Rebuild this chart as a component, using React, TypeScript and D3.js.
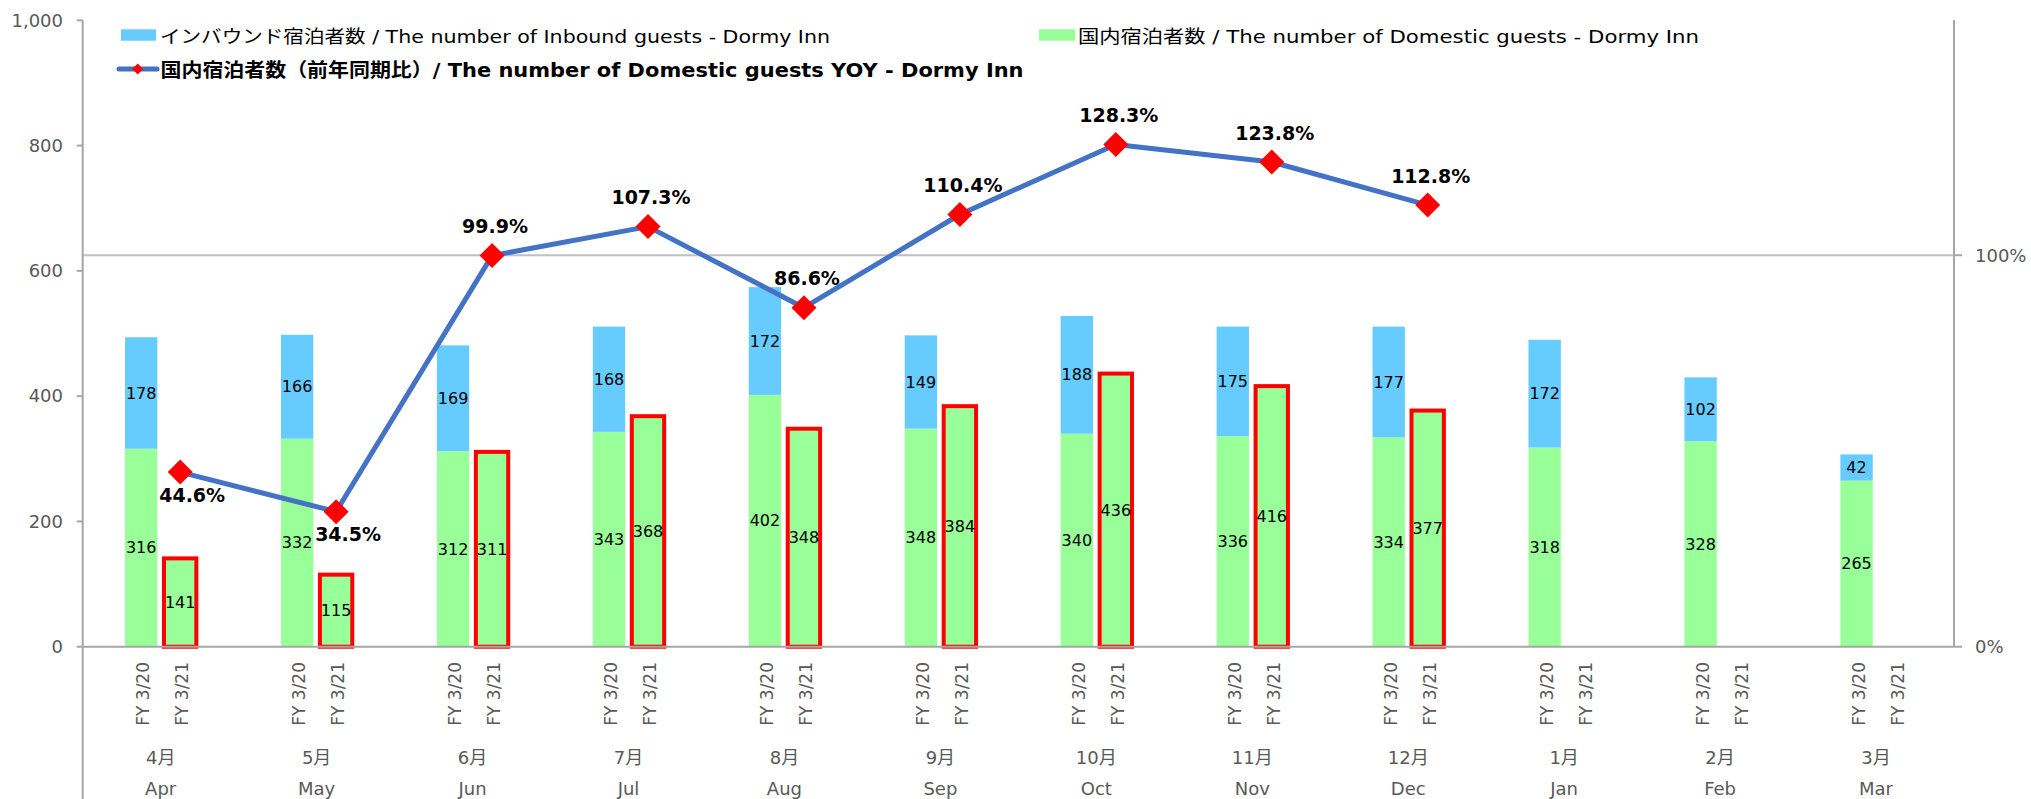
import React from "react";
import * as d3 from "d3";

const monthsJa = ["4月", "5月", "6月", "7月", "8月", "9月", "10月", "11月", "12月", "1月", "2月", "3月"];
const monthsEn = ["Apr", "May", "Jun", "Jul", "Aug", "Sep", "Oct", "Nov", "Dec", "Jan", "Feb", "Mar"];
const subCategories = ["", "FY 3/20", "FY 3/21", " "];
const domesticFY20 = [316, 332, 312, 343, 402, 348, 340, 336, 334, 318, 328, 265];
const inboundFY20 = [178, 166, 169, 168, 172, 149, 188, 175, 177, 172, 102, 42];
const domesticFY21 = [141, 115, 311, 368, 348, 384, 436, 416, 377, null, null, null];
const yoyFY21 = [0.446, 0.345, 0.999, 1.073, 0.866, 1.104, 1.283, 1.238, 1.128, null, null, null];
const leftTicks = [0, 200, 400, 600, 800, 1000];
const rightTicks = [0, 1];

const legendInbound = "インバウンド宿泊者数 / The number of Inbound guests - Dormy Inn";
const legendDomestic = "国内宿泊者数 / The number of Domestic guests - Dormy Inn";
const legendYoy = "国内宿泊者数（前年同期比）/ The number of Domestic guests YOY - Dormy Inn";

const BLUE = "#66CCFF";
const GREEN = "#99FF99";
const LINE = "#4472C4";
const RED = "#FF0000";
const AXIS = "#A6A6A6";
const GRID = "#C0C0C0";
const TXT = "#595959";
const FONT = "'DejaVu Sans', Verdana, 'Noto Sans CJK JP', sans-serif";

export default function App() {
  const W = 2031;
  const H = 799;
  const left = 82.7;
  const right = 1954;
  const top = 20.3;
  const bottom = 646.7;

  const x = d3.scaleBand<string>().domain(monthsEn).range([left, right]).paddingInner(0).paddingOuter(0);
  const sub = d3
    .scaleBand<string>()
    .domain(subCategories)
    .range([0, x.bandwidth()])
    .paddingInner(0.17)
    .paddingOuter(0.085);
  const yL = d3.scaleLinear().domain([0, 1000]).range([bottom, top]);
  const yR = d3.scaleLinear().domain([0, 1.6]).range([bottom, top]);
  const bw = sub.bandwidth();

  const c20 = (i: number) => (x(monthsEn[i]) as number) + (sub("FY 3/20") as number) + bw / 2;
  const c21 = (i: number) => (x(monthsEn[i]) as number) + (sub("FY 3/21") as number) + bw / 2;

  const linePts: [number, number][] = yoyFY21
    .map((v, i) => (v == null ? null : ([c21(i), yR(v)] as [number, number])))
    .filter((p): p is [number, number] => p != null);
  const linePath = d3.line()(linePts) || "";

  const fmtL = d3.format(",");
  const fmtR = d3.format(".0%");
  const fmtP = d3.format(".1%");

  const diamond = (cx: number, cy: number, r: number) =>
    `M${cx},${cy - r}L${cx + r},${cy}L${cx},${cy + r}L${cx - r},${cy}Z`;

  return (
    <svg
      width={W}
      height={H}
      style={{ position: "absolute", left: 0, top: 0, background: "#fff" }}
      fontFamily={FONT}
    >
      <rect x={0} y={0} width={W} height={H} fill="#fff" />

      {/* gridline at 100% (right axis) */}
      {rightTicks
        .filter((t) => t > 0)
        .map((t) => (
          <line key={"g" + t} x1={left} x2={right} y1={yR(t)} y2={yR(t)} stroke={GRID} strokeWidth={2} />
        ))}

      {/* FY 3/20 stacked bars */}
      {monthsEn.map((m, i) => {
        const cx = c20(i);
        const yD = yL(domesticFY20[i]);
        const yT = yL(domesticFY20[i] + inboundFY20[i]);
        return (
          <g key={"b20" + m}>
            <rect x={cx - bw / 2} y={yD} width={bw} height={bottom - yD} fill={GREEN} />
            <rect x={cx - bw / 2} y={yT} width={bw} height={yD - yT} fill={BLUE} />
            <text x={cx} y={(yD + bottom) / 2} dy="0.35em" textAnchor="middle" fontSize={16} fill="#000">
              {domesticFY20[i]}
            </text>
            <text x={cx} y={(yT + yD) / 2} dy="0.35em" textAnchor="middle" fontSize={16} fill="#000">
              {inboundFY20[i]}
            </text>
          </g>
        );
      })}

      {/* FY 3/21 bars */}
      {monthsEn.map((m, i) => {
        const v = domesticFY21[i];
        if (v == null) return null;
        const cx = c21(i);
        const yv = yL(v);
        return (
          <g key={"b21" + m}>
            <rect x={cx - bw / 2} y={yv} width={bw} height={bottom - yv} fill={GREEN} stroke={RED} strokeWidth={4} />
            <text x={cx} y={(yv + bottom) / 2} dy="0.35em" textAnchor="middle" fontSize={16} fill="#000">
              {v}
            </text>
          </g>
        );
      })}

      {/* axes */}
      <line x1={left} x2={right} y1={bottom} y2={bottom} stroke={AXIS} strokeWidth={2} />
      <line x1={left} x2={left} y1={top} y2={H} stroke={AXIS} strokeWidth={2} />
      <line x1={right} x2={right} y1={top} y2={bottom} stroke={AXIS} strokeWidth={2} />
      {leftTicks.map((t) => (
        <g key={"lt" + t}>
          <line x1={left - 6} x2={left} y1={yL(t)} y2={yL(t)} stroke={AXIS} strokeWidth={2} />
          <text x={63} y={yL(t)} dy="0.35em" textAnchor="end" fontSize={18} fill={TXT}>
            {fmtL(t)}
          </text>
        </g>
      ))}
      {rightTicks.map((t) => (
        <g key={"rt" + t}>
          <line x1={right} x2={right + 8} y1={yR(t)} y2={yR(t)} stroke={AXIS} strokeWidth={2} />
          <text x={1975} y={yR(t)} dy="0.35em" textAnchor="start" fontSize={18} fill={TXT}>
            {fmtR(t)}
          </text>
        </g>
      ))}

      {/* category labels */}
      {monthsEn.map((m, i) => (
        <g key={"cat" + m}>
          {["FY 3/20", "FY 3/21"].map((s) => {
            const cx = (x(m) as number) + (sub(s) as number) + bw / 2 + 2;
            return (
              <text
                key={s}
                transform={`translate(${cx},662) rotate(-90)`}
                dy="0.36em"
                textAnchor="end"
                fontSize={17}
                fill={TXT}
              >
                {s}
              </text>
            );
          })}
          <text x={(x(m) as number) + x.bandwidth() / 2} y={763.5} textAnchor="middle" fontSize={18} fill={TXT}>
            {monthsJa[i]}
          </text>
          <text x={(x(m) as number) + x.bandwidth() / 2} y={794.5} textAnchor="middle" fontSize={18} fill={TXT}>
            {m}
          </text>
        </g>
      ))}

      {/* YOY line */}
      <path d={linePath} fill="none" stroke={LINE} strokeWidth={5} strokeLinejoin="round" />
      {yoyFY21.map((v, i) => {
        if (v == null) return null;
        const cx = c21(i);
        const cy = yR(v);
        const below = v < 0.5;
        return (
          <g key={"m" + i}>
            <path d={diamond(cx, cy, 12.5)} fill={RED} />
            <text
              x={cx + (below ? 12 : 3)}
              y={below ? cy + 23 : cy - 29}
              dy="0.35em"
              textAnchor="middle"
              fontSize={19}
              fontWeight="bold"
              fill="#000"
            >
              {fmtP(v)}
            </text>
          </g>
        );
      })}

      {/* legend */}
      <rect x={121} y={29.3} width={35} height={11.4} fill={BLUE} />
      <text x={160} y={42.5} fontSize={18} fill="#000" textLength={670} lengthAdjust="spacingAndGlyphs">
        {legendInbound}
      </text>
      <rect x={1039} y={29.3} width={36} height={11.4} fill={GREEN} />
      <text x={1078} y={42.5} fontSize={18} fill="#000" textLength={621} lengthAdjust="spacingAndGlyphs">
        {legendDomestic}
      </text>
      <line x1={119} x2={157} y1={69} y2={69} stroke={LINE} strokeWidth={5} strokeLinecap="round" />
      <path d={diamond(137.7, 69, 5.5)} fill={RED} />
      <text
        x={160.5}
        y={76.5}
        fontSize={19}
        fontWeight="bold"
        fill="#000"
        textLength={863}
        lengthAdjust="spacingAndGlyphs"
      >
        {legendYoy}
      </text>
    </svg>
  );
}
